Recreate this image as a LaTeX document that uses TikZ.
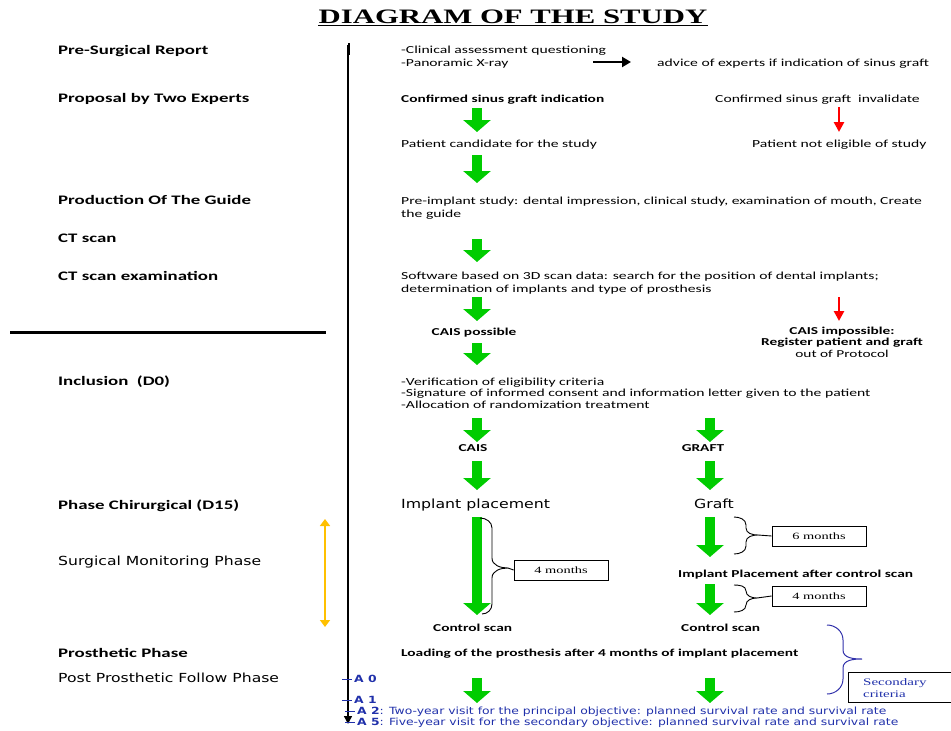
\documentclass[tikz,border=0pt]{standalone}
\usepackage{fontspec}
\setmainfont{Carlito}[FakeStretch=1.45]
\newfontfamily\dvfont{DejaVu Sans}[FakeStretch=1.25]
\newfontfamily\tmfont{Liberation Serif}[FakeStretch=1.5]
\usetikzlibrary{arrows.meta}
\definecolor{grn}{RGB}{0,204,0}
\definecolor{ylw}{RGB}{255,192,0}
\definecolor{ablue}{RGB}{32,48,170}
\definecolor{bblue}{RGB}{48,48,170}

\begin{document}
\begin{tikzpicture}
[x=1pt,y=-1pt,every node/.style={inner sep=0pt,anchor=base west},
tag/.style={font=\fontsize{13}{14}\selectfont\bfseries},
dtag/.style={font=\dvfont\fontsize{12.5}{14}\selectfont},
txt/.style={font=\fontsize{10.8}{12.3}\selectfont,align=left},
btxt/.style={font=\fontsize{10.6}{11.3}\selectfont\bfseries},
dtxt/.style={font=\dvfont\fontsize{12.6}{14}\selectfont},
ayr/.style={font=\dvfont\fontsize{9.9}{10}\selectfont,text=ablue},
mbox/.style={draw,thick,anchor=center,minimum width=94pt,minimum height=20pt,font=\tmfont\fontsize{9.6}{11}\selectfont},
garrow/.style={grn,line width=10pt,-{Triangle[width=27pt,length=12pt]}},
rarrow/.style={red,line width=2.6pt,-{Triangle[width=10pt,length=10pt]}},
brace/.style={line width=0.9pt}]
\useasboundingbox (0,0) rectangle (951,731);

% title
\node[anchor=base,font=\tmfont\fontsize{20.5}{22}\selectfont\bfseries] (title) at (513,23) {DIAGRAM OF THE STUDY};
\draw[line width=1.6pt] ([yshift=-2.5pt]title.base west) -- ([yshift=-2.5pt]title.base east);

% phases
\node[tag] (pre) at (58,54) {Pre-Surgical Report};
\node[tag] (prop) at (58,102) {Proposal by Two Experts};
\node[tag] (prod) at (58,204) {Production Of The Guide};
\node[tag] (ct) at (58,242) {CT scan};
\node[tag] (cte) at (58,280) {CT scan examination};
\node[tag] (incl) at (58,385) {Inclusion\ \ (D0)};
\node[tag] (phc) at (58,509) {Phase Chirurgical (D15)};
\node[dtag] (smp) at (58,565) {Surgical Monitoring Phase};
\node[tag] (prp) at (58,657) {Prosthetic Phase};
\node[dtag] (ppf) at (58,682) {Post Prosthetic Follow Phase};

% time line
\coordinate (tl0) at (348,45);
\coordinate (tl1) at (348,724);
\coordinate (hr0) at (10,332);
\coordinate (hr1) at (326,332);
\coordinate (ym0) at (325,519);
\coordinate (ym1) at (325,627);
\draw[line width=1.3pt,-{Triangle[width=8pt,length=8pt]}] (tl0) -- (tl1);
\draw[line width=2pt] (349,43) -- (349,55);
\draw[line width=3pt] (hr0) -- (hr1);
\draw[ylw,line width=1.6pt,{Triangle[width=10pt,length=7pt]}-{Triangle[width=10pt,length=7pt]}] (ym0) -- (ym1);

% right part (multi-line nodes sit on their last line)
\node[txt] (clin) at (401,66) {-Clinical assessment questioning\\-Panoramic X-ray};
\node[txt] (adv) at (657,66) {advice of experts if indication of sinus graft};
\node[btxt] (cgi) at (401,102) {Confirmed sinus graft indication};
\node[txt] (cgv) at (715,102) {Confirmed sinus graft\ \ invalidate};
\node[txt] (pcs) at (401,147) {Patient candidate for the study};
\node[txt] (pne) at (752,147) {Patient not eligible of study};
\node[txt] (pis) at (401,217) {Pre-implant study: dental impression, clinical study, examination of mouth, Create\\the guide};
\node[txt] (sw) at (401,292) {Software based on 3D scan data: search for the position of dental implants;\\determination of implants and type of prosthesis};
\node[btxt,anchor=base] (caisp) at (474,335) {CAIS possible};
\node[btxt,anchor=base,align=center] (caisi) at (842,357) {CAIS impossible:\\Register patient and graft\\\mdseries out of Protocol};
\node[txt,font=\fontsize{10.8}{11.4}\selectfont] (ver) at (401,408) {-Verification of eligibility criteria\\-Signature of informed consent and information letter given to the patient\\-Allocation of randomization treatment};
\node[btxt,anchor=base] (cais) at (473,451) {CAIS};
\node[btxt,anchor=base] (graft) at (703,451) {GRAFT};
\node[dtxt] (ip) at (401,508) {Implant placement};
\node[dtxt,anchor=base] (gr) at (714,508) {Graft};
\node[btxt] (ipa) at (678,577) {Implant Placement after control scan};
\node[btxt] (cs1) at (433,631) {Control scan};
\node[btxt] (cs2) at (681,631) {Control scan};
\node[btxt] (load) at (401,656) {Loading of the prosthesis after 4 months of implant placement};
\node[mbox] (m4a) at (561,570) {4 months};
\node[mbox] (m6) at (819,536) {6 months};
\node[mbox] (m4b) at (819,596) {4 months};
\node[draw,thick,anchor=north west,minimum width=120pt,minimum height=30pt] (scb) at (848,672) {};
\node[font=\tmfont\fontsize{10}{11.5}\selectfont,text=ablue,align=left] (sc) at (863,697) {Secondary\\criteria};

% follow up
\node[ayr] (a0) at (354,682) {\bfseries A 0};
\node[ayr] (a1) at (354,703) {\bfseries A 1};
\node[ayr] (a2) at (357,714) {\bfseries A 2\mdseries: Two-year visit for the principal objective: planned survival rate and survival rate};
\node[ayr] (a5) at (357,725) {\bfseries A 5\mdseries: Five-year visit for the secondary objective: planned survival rate and survival rate};
\foreach \n in {a0,a1,a2,a5}
\draw[ablue,thick] ([xshift=-12pt,yshift=3pt]\n.base west) -- ([xshift=-2pt,yshift=3pt]\n.base west);

% arrows
\coordinate (ba0) at (593,62);
\coordinate (ba1) at (631,62);
\draw[line width=2.6pt,-{Triangle[width=10pt,length=9pt]}] (ba0) -- (ba1);
\coordinate (ra0) at (839,107);
\coordinate (ra1) at (839,132);
\coordinate (rb0) at (839,297);
\coordinate (rb1) at (839,321);
\foreach \from/\to in {ra0/ra1,rb0/rb1}
\draw[rarrow] (\from) -- (\to);
\coordinate (g1a) at (477,108); \coordinate (g1b) at (477,132);
\coordinate (g2a) at (477,155); \coordinate (g2b) at (477,183);
\coordinate (g3a) at (477,239); \coordinate (g3b) at (477,262);
\coordinate (g4a) at (477,297); \coordinate (g4b) at (477,321);
\coordinate (g5a) at (477,343); \coordinate (g5b) at (477,365);
\coordinate (g6a) at (477,418); \coordinate (g6b) at (477,442);
\coordinate (g7a) at (710,418); \coordinate (g7b) at (710,442);
\coordinate (g8a) at (477,461); \coordinate (g8b) at (477,490);
\coordinate (g9a) at (710,461); \coordinate (g9b) at (710,490);
\coordinate (g10a) at (477,517); \coordinate (g10b) at (477,615);
\coordinate (g11a) at (710,517); \coordinate (g11b) at (710,557);
\coordinate (g12a) at (710,584); \coordinate (g12b) at (710,615);
\coordinate (g13a) at (477,678); \coordinate (g13b) at (477,703);
\coordinate (g14a) at (710,678); \coordinate (g14b) at (710,703);
\foreach \from/\to in {g1a/g1b,g2a/g2b,g3a/g3b,g4a/g4b,g5a/g5b,g6a/g6b,g7a/g7b,g8a/g8b,g9a/g9b,g10a/g10b,g11a/g11b,g12a/g12b,g13a/g13b,g14a/g14b}
\draw[garrow] (\from) -- (\to);

% braces
\draw[brace] (480,518) to[out=0,in=90] (492,528) -- (492,558) to[out=-90,in=180] (508,568) to[out=180,in=90] (492,578) -- (492,604) to[out=-90,in=0] (482,614);
\draw[brace] (m4a.west) -- (508,568);
\draw[brace] (734,517) to[out=0,in=90] (746,525) -- (746,528) to[out=-90,in=180] (758,535) to[out=180,in=90] (746,542) -- (746,546) to[out=-90,in=0] (734,554);
\draw[brace] (m6.west) -- (758,535);
\draw[brace] (734,585) to[out=0,in=90] (746,591) to[out=-90,in=180] (757,598) to[out=180,in=90] (746,605) to[out=-90,in=0] (734,612);
\draw[brace] (m4b.west) -- (757,598);
\draw[bblue,line width=1pt] (827,625) to[out=0,in=90] (843,640) -- (843,650) to[out=-90,in=180] (862,659) to[out=180,in=90] (843,668) -- (843,679) to[out=-90,in=0] (827,694);
\end{tikzpicture}
\end{document}
